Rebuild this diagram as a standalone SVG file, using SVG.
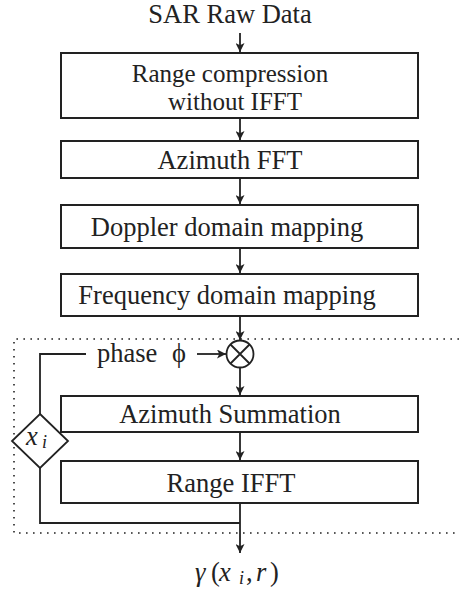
<svg xmlns="http://www.w3.org/2000/svg" width="459" height="594" viewBox="0 0 459 594" font-family="'Liberation Serif', 'DejaVu Serif', serif">
<style>
text{font-family:'Liberation Serif','DejaVu Serif',serif;font-size:26.5px;fill:#222;text-anchor:middle}
.box{fill:#fff;stroke:#222;stroke-width:2}
.ln{fill:none;stroke:#222;stroke-width:1.8}
.dot{fill:none;stroke:#222;stroke-width:1.6;stroke-dasharray:1.6 5.4}
.it{font-style:italic;text-anchor:start}
.up{text-anchor:start}
.sub{font-style:italic;font-size:18px;text-anchor:start}
</style>
<defs>
<marker id="ah" viewBox="0 0 10 10" refX="10" refY="5" markerWidth="9" markerHeight="9" markerUnits="userSpaceOnUse" orient="auto">
<path d="M0,0 L10,5 L0,10 L2.5,5 Z" fill="#222"/>
</marker>
</defs>
<g id="frame"><path class="dot" d="M459,339 H14 V533 H459"/></g>
<g id="input"><text x="230" y="23">SAR Raw Data</text></g>
<g id="n1"><rect class="box" x="61" y="53" width="357" height="65"/><text x="230" y="82" style="font-size:25px">Range compression</text><text x="235" y="110" style="font-size:25px">without IFFT</text></g>
<g id="n2"><rect class="box" x="61" y="141" width="357" height="37"/><text x="230" y="169">Azimuth FFT</text></g>
<g id="n3"><rect class="box" x="61" y="205" width="357" height="43"/><text x="227" y="236">Doppler domain mapping</text></g>
<g id="n4"><rect class="box" x="61" y="274" width="357" height="42"/><text x="227" y="304">Frequency domain mapping</text></g>
<g id="mult"><circle class="ln" cx="240" cy="354" r="13.5"/><path class="ln" d="M230.5,344.5 L249.5,363.5 M249.5,344.5 L230.5,363.5"/></g>
<g id="phase"><text class="up" x="97" y="362">phase</text><text x="179" y="362">ϕ</text></g>
<g id="n5"><rect class="box" x="61" y="396" width="357" height="36"/><text x="230" y="423">Azimuth Summation</text></g>
<g id="n6"><rect class="box" x="61" y="461" width="357" height="42"/><text x="231" y="492">Range IFFT</text></g>
<g id="xi"><path class="ln" d="M40,414 L68,441 L40,468 L12,441 Z" style="fill:#fff"/><text class="it" x="26" y="445">x</text><text class="sub" x="42" y="448">i</text></g>
<g id="output"><text class="it" x="195" y="581">γ</text><text class="up" x="211" y="581">(</text><text class="it" x="219" y="581">x</text><text class="sub" x="239" y="584">i</text><text class="up" x="246" y="581">,</text><text class="it" x="256" y="581">r</text><text class="up" x="270" y="581">)</text></g>
<g id="connectors">
<path class="ln" d="M240,33 V52" marker-end="url(#ah)"/>
<path class="ln" d="M240,118 V140" marker-end="url(#ah)"/>
<path class="ln" d="M240,178 V204" marker-end="url(#ah)"/>
<path class="ln" d="M240,248 V273" marker-end="url(#ah)"/>
<path class="ln" d="M240,316 V340" marker-end="url(#ah)"/>
<path class="ln" d="M240,368 V395" marker-end="url(#ah)"/>
<path class="ln" d="M240,432 V460" marker-end="url(#ah)"/>
<path class="ln" d="M240,503 V553" marker-end="url(#ah)"/>
<path class="ln" d="M197,354 H226" marker-end="url(#ah)"/>
<path class="ln" d="M40,414 V354 H86"/>
<path class="ln" d="M40,468 V523 H240"/>
</g>
</svg>
